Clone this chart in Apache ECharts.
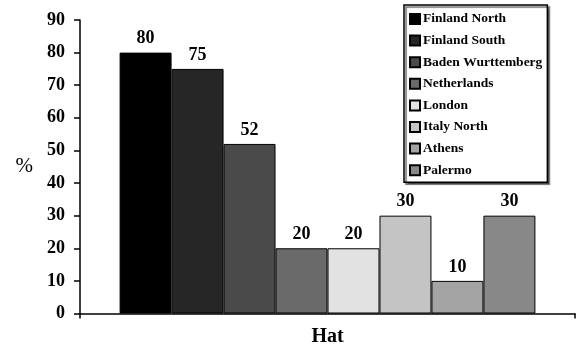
<!DOCTYPE html>
<html>
<head>
<meta charset="utf-8">
<script src="https://cdn.jsdelivr.net/npm/echarts@6/dist/echarts.min.js"></script>
<style>
  html, body { margin: 0; padding: 0; background: #fff; }
  #chart { width: 578px; height: 351px; }
</style>
</head>
<body>
<div id="chart"></div>
<script>
// Share of respondents per region, single category "Hat"
const categories = ['Hat'];
const regions = ['Finland North', 'Finland South', 'Baden Wurttemberg', 'Netherlands',
                 'London', 'Italy North', 'Athens', 'Palermo'];
const values = [80, 75, 52, 20, 20, 30, 10, 30];
const fills = ['#000000', '#262626', '#4a4a4a', '#6a6a6a',
               '#e2e2e2', '#c4c4c4', '#a4a4a4', '#888888'];
const yTicks = [0, 10, 20, 30, 40, 50, 60, 70, 80, 90];

const serif = '"Liberation Serif", "DejaVu Serif", serif';

const series = regions.map((name, i) => ({
  name: name,
  type: 'bar',
  barGap: '0%',
  barCategoryGap: '16%',
  data: [values[i]],
  itemStyle: { color: fills[i], borderColor: '#000', borderWidth: 1 },
  label: {
    show: true,
    position: 'top',
    distance: 5,
    fontFamily: serif,
    fontWeight: 'bold',
    fontSize: 18,
    color: '#000'
  }
}));

const chart = echarts.init(document.getElementById('chart'));
chart.setOption({
  animation: false,
  backgroundColor: '#fff',
  grid: { left: 80, right: 3, top: 20, bottom: 37.5, containLabel: false },
  legend: {
    orient: 'vertical',
    left: 404,
    top: 5,
    padding: [7, 5, 5, 5],
    itemWidth: 10,
    itemHeight: 10,
    itemGap: 7.6,
    borderColor: '#000',
    borderWidth: 1.5,
    backgroundColor: '#fff',
    shadowColor: 'rgba(0,0,0,0.6)',
    shadowOffsetX: 2,
    shadowOffsetY: 2,
    shadowBlur: 1,
    icon: 'rect',
    textStyle: {
      fontFamily: serif,
      fontWeight: 'bold',
      fontSize: 13.5,
      lineHeight: 13.6,
      color: '#000',
      padding: [0, 0, 0, -2]
    },
    data: regions
  },
  xAxis: {
    type: 'category',
    data: categories,
    axisLine: { lineStyle: { color: '#000', width: 1.5 } },
    axisTick: { show: true, length: 5, lineStyle: { color: '#000', width: 1.5 } },
    axisLabel: {
      margin: 13,
      fontFamily: serif,
      fontWeight: 'bold',
      fontSize: 20,
      color: '#000'
    }
  },
  yAxis: {
    type: 'value',
    min: yTicks[0],
    max: yTicks[yTicks.length - 1],
    interval: 10,
    name: '%',
    nameLocation: 'middle',
    nameRotate: 0,
    nameGap: 47,
    nameTextStyle: { fontFamily: serif, fontSize: 21, color: '#000' },
    axisLine: { show: true, lineStyle: { color: '#000', width: 1.5 } },
    axisTick: { show: true, length: 6, lineStyle: { color: '#000', width: 1.5 } },
    splitLine: { show: false },
    axisLabel: {
      margin: 15,
      fontFamily: serif,
      fontWeight: 'bold',
      fontSize: 18,
      color: '#000'
    }
  },
  series: series
});
</script>
</body>
</html>
